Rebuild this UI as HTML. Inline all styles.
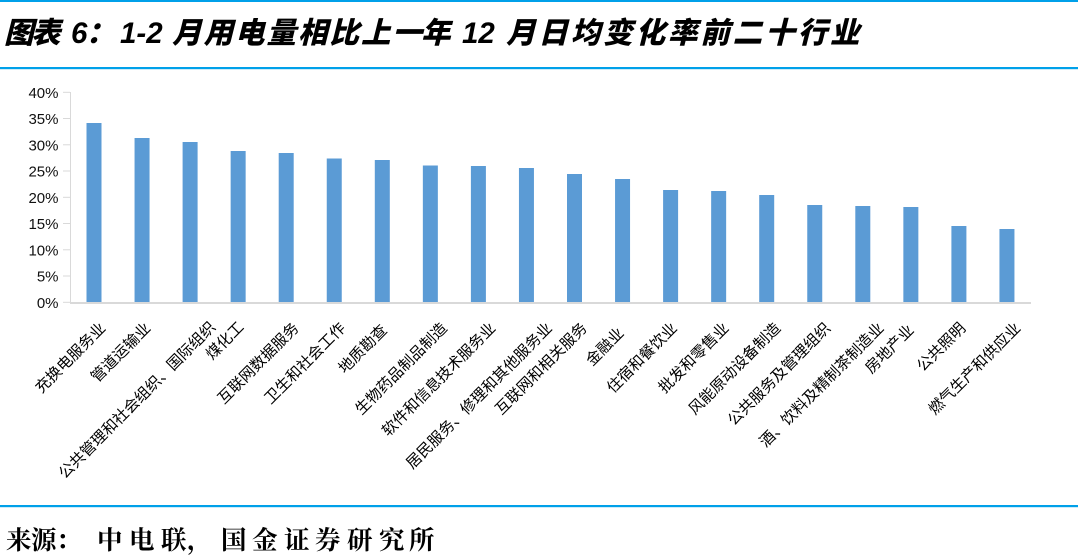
<!DOCTYPE html>
<html>
<head>
<meta charset="utf-8">
<style>
html,body{margin:0;padding:0;background:#fff;}
body{width:1078px;height:560px;overflow:hidden;}
svg{display:block;}
.t{font-family:"Liberation Sans","Noto Sans CJK SC",sans-serif;font-weight:900;font-style:italic;font-size:29.5px;fill:#000;}
.y{font-family:"Liberation Sans",sans-serif;font-size:15px;fill:#111;}
.c{font-family:"Liberation Sans","Noto Sans CJK SC",sans-serif;font-size:15.3px;fill:#000;}
.f{font-family:"Liberation Serif","Noto Serif CJK SC",serif;font-weight:700;font-size:25.5px;fill:#000;}
</style>
</head>
<body>
<svg width="1078" height="560" viewBox="0 0 1078 560" xmlns="http://www.w3.org/2000/svg">
<rect x="0" y="0" width="1078" height="560" fill="#fff"/>
<!-- blue rules -->
<rect x="0" y="0" width="1078" height="2" fill="#00a0e9"/>
<rect x="0" y="67" width="1078" height="2.2" fill="#00a0e9"/>
<rect x="0" y="505" width="1078" height="2.2" fill="#00a0e9"/>

<!-- title -->
<text class="t" y="43" x="4 31">图表</text>
<text class="t" y="43" x="71">6</text>
<text class="t" y="43" x="86">：</text>
<text class="t" y="43" x="120">1-2</text>
<text class="t" y="43" x="172 203.5 235 266.5 298 329.5 361 392.5 421">月用电量相比上一年</text>
<text class="t" y="43" x="462">12</text>
<text class="t" y="43" x="506 538.4 570.8 603.2 635.6 668 700.4 732.8 765.2 797.6 830">月日均变化率前二十行业</text>

<!-- y axis -->
<line x1="70.5" y1="92" x2="70.5" y2="303" stroke="#d9d9d9" stroke-width="1"/>
<g stroke="#d9d9d9" stroke-width="1">
<line x1="63" y1="92.3" x2="70" y2="92.3"/>
<line x1="63" y1="118.5" x2="70" y2="118.5"/>
<line x1="63" y1="144.8" x2="70" y2="144.8"/>
<line x1="63" y1="171" x2="70" y2="171"/>
<line x1="63" y1="197.3" x2="70" y2="197.3"/>
<line x1="63" y1="223.5" x2="70" y2="223.5"/>
<line x1="63" y1="249.8" x2="70" y2="249.8"/>
<line x1="63" y1="276" x2="70" y2="276"/>
<line x1="63" y1="302.3" x2="70" y2="302.3"/>
</g>
<g class="y" text-anchor="end">
<text x="58.5" y="97.8">40%</text>
<text x="58.5" y="124">35%</text>
<text x="58.5" y="150.3">30%</text>
<text x="58.5" y="176.5">25%</text>
<text x="58.5" y="202.8">20%</text>
<text x="58.5" y="229">15%</text>
<text x="58.5" y="255.3">10%</text>
<text x="58.5" y="281.5">5%</text>
<text x="58.5" y="307.8">0%</text>
</g>

<!-- bars -->
<g fill="#5b9bd5">
<rect x="86.5" y="123" width="15" height="179"/>
<rect x="134.55" y="138" width="15" height="164"/>
<rect x="182.6" y="142" width="15" height="160"/>
<rect x="230.65" y="151" width="15" height="151"/>
<rect x="278.7" y="153" width="15" height="149"/>
<rect x="326.75" y="158.5" width="15" height="143.5"/>
<rect x="374.8" y="160" width="15" height="142"/>
<rect x="422.85" y="165.5" width="15" height="136.5"/>
<rect x="470.9" y="166" width="15" height="136"/>
<rect x="518.95" y="168" width="15" height="134"/>
<rect x="567" y="174" width="15" height="128"/>
<rect x="615.05" y="179" width="15" height="123"/>
<rect x="663.1" y="190" width="15" height="112"/>
<rect x="711.15" y="191" width="15" height="111"/>
<rect x="759.2" y="195" width="15" height="107"/>
<rect x="807.25" y="205" width="15" height="97"/>
<rect x="855.3" y="206" width="15" height="96"/>
<rect x="903.35" y="207" width="15" height="95"/>
<rect x="951.4" y="226" width="15" height="76"/>
<rect x="999.45" y="229" width="15" height="73"/>
</g>
<!-- x axis baseline -->
<rect x="70" y="302" width="961" height="2" fill="#d9d9d9"/>

<!-- category labels -->
<g class="c" text-anchor="end">
<text x="106.4" y="329" transform="rotate(-45 106.4 329)">充换电服务业</text>
<text x="151.4" y="329" transform="rotate(-45 151.4 329)">管道运输业</text>
<text x="216.4" y="328" transform="rotate(-45 216.4 328)">公共管理和社会组织、国际组织</text>
<text x="244.7" y="328" transform="rotate(-45 244.7 328)">煤化工</text>
<text x="299.7" y="329" transform="rotate(-45 299.7 329)">互联网数据服务</text>
<text x="346.4" y="329" transform="rotate(-45 346.4 329)">卫生和社会工作</text>
<text x="388" y="331" transform="rotate(-45 388 331)">地质勘查</text>
<text x="448" y="329" transform="rotate(-45 448 329)">生物药品制品制造</text>
<text x="496.4" y="329" transform="rotate(-45 496.4 329)">软件和信息技术服务业</text>
<text x="553" y="329" transform="rotate(-45 553 329)">居民服务、修理和其他服务业</text>
<text x="588" y="329" transform="rotate(-45 588 329)">互联网和相关服务</text>
<text x="624.7" y="334" transform="rotate(-45 624.7 334)">金融业</text>
<text x="678" y="329" transform="rotate(-45 678 329)">住宿和餐饮业</text>
<text x="729.7" y="329" transform="rotate(-45 729.7 329)">批发和零售业</text>
<text x="781.4" y="329" transform="rotate(-45 781.4 329)">风能原动设备制造</text>
<text x="831.4" y="329" transform="rotate(-45 831.4 329)">公共服务及管理组织</text>
<text x="884.7" y="329" transform="rotate(-45 884.7 329)">酒、饮料及精制茶制造业</text>
<text x="914.7" y="331" transform="rotate(-45 914.7 331)">房地产业</text>
<text x="966.4" y="329" transform="rotate(-45 966.4 329)">公共照明</text>
<text x="1021.4" y="329" transform="rotate(-45 1021.4 329)">燃气生产和供应业</text>
</g>

<!-- footer -->
<text class="f" y="549" x="6 31 56 97 129 161 187 221 252 284 315 347 379 409">来源：中电联，国金证券研究所</text>
</svg>
</body>
</html>
